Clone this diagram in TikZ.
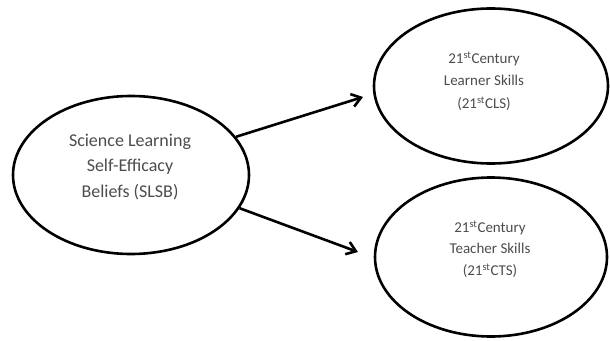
\documentclass[tikz,border=0pt]{standalone}
\usepackage{fontspec}
\setmainfont{Carlito}
\usetikzlibrary{shapes.geometric,arrows.meta}
\begin{document}
\begin{tikzpicture}[x=1pt,y=-1pt,
  oval/.style={draw=black,line width=2.6pt,ellipse,inner sep=0pt},
  lbl/.style={align=center,text=black!70},
  arr/.style={line width=2.6pt,-{Straight Barb[length=9pt,width=13pt,line width=2.6pt]}}]
\useasboundingbox (0,0) rectangle (610,340);
\node[oval,minimum width=236pt,minimum height=158pt] (slsb) at (131,175) {};
\node[oval,minimum width=234pt,minimum height=155pt] (cls) at (491,86) {};
\node[oval,minimum width=232pt,minimum height=159pt] (cts) at (491,257) {};
\node[lbl,font=\fontsize{18}{25.5}\selectfont] (t1) at (130,167) {Science Learning\\Self-Efficacy\\Beliefs (SLSB)};
\node[lbl,font=\fontsize{15}{22.5}\selectfont] (t2) at (484,81) {21\textsuperscript{st}Century\\Learner Skills\\(21\textsuperscript{st}CLS)};
\node[lbl,font=\fontsize{15}{21.5}\selectfont] (t3) at (490,249) {21\textsuperscript{st}Century\\Teacher Skills\\(21\textsuperscript{st}CTS)};
\draw[arr] (slsb.20) -- (363,97) coordinate (e1);
\draw[arr] (slsb.-17) -- (358,252) coordinate (e2);
\end{tikzpicture}
\end{document}
